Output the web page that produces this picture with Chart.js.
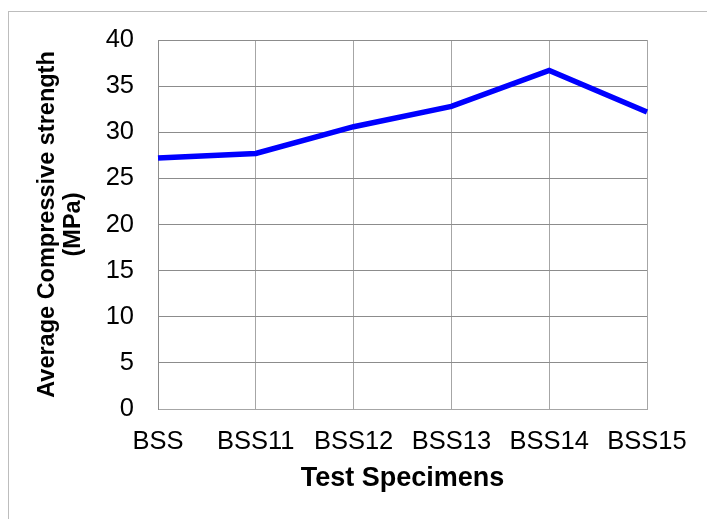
<!DOCTYPE html>
<html>
<head>
<meta charset="utf-8">
<script src="https://cdn.jsdelivr.net/npm/chart.js@4"></script>
<style>
  html, body { margin: 0; padding: 0; background: #fff; overflow: hidden; }
  #frame { position: absolute; left: 8px; top: 11px; width: 800px; height: 600px; border: 1px solid #bdbdbd; }
  #chart { position: absolute; left: 0; top: 0; }
</style>
</head>
<body>
<div id="frame"></div>
<canvas id="chart" width="707" height="519"></canvas>
<script>
const specimens = ["BSS", "BSS11", "BSS12", "BSS13", "BSS14", "BSS15"];
const avgStrength = [27.2, 27.7, 30.6, 32.8, 36.7, 32.2];
const yTicks = [0, 5, 10, 15, 20, 25, 30, 35, 40];

const font = "'Liberation Sans', Arial, sans-serif";

new Chart(document.getElementById("chart"), {
    type: "line",
    data: {
        labels: specimens,
        datasets: [{
            data: avgStrength,
            borderColor: "#0000ff",
            borderWidth: 5.5,
            pointRadius: 0,
            tension: 0,
            fill: false
        }]
    },
    options: {
        responsive: false,
        animation: false,
        devicePixelRatio: 1,
        layout: { padding: { top: 40, right: 60, left: 0, bottom: 0 } },
        plugins: { legend: { display: false }, tooltip: { enabled: false } },
        scales: {
            x: {
                type: "category",
                offset: false,
                grid: { color: "#a6a6a6", lineWidth: 1, drawTicks: false },
                border: { color: "#a6a6a6" },
                ticks: { color: "#000", font: { family: font, size: 25.5 }, padding: 18, maxRotation: 0, autoSkip: false },
                title: {
                    display: true,
                    text: "Test Specimens",
                    color: "#000",
                    font: { family: font, size: 27, weight: "bold", lineHeight: 1 },
                    padding: { top: 0, bottom: 27 }
                },
                afterFit: function (scale) { scale.height = 110; }
            },
            y: {
                min: 0,
                max: 40,
                afterBuildTicks: function (scale) { scale.ticks = yTicks.map(v => ({ value: v })); },
                grid: { color: "#8c8c8c", lineWidth: 1, drawTicks: false },
                border: { color: "#8c8c8c" },
                ticks: { color: "#000", font: { family: font, size: 25.5 }, padding: 24 },
                title: {
                    display: true,
                    text: ["Average Compressive strength", "(MPa)"],
                    color: "#000",
                    font: { family: font, size: 23.5, weight: "bold", lineHeight: 1.1 },
                    padding: { top: 35, bottom: 0 }
                },
                afterFit: function (scale) { scale.width = 158; }
            }
        }
    }
});
</script>
</body>
</html>
